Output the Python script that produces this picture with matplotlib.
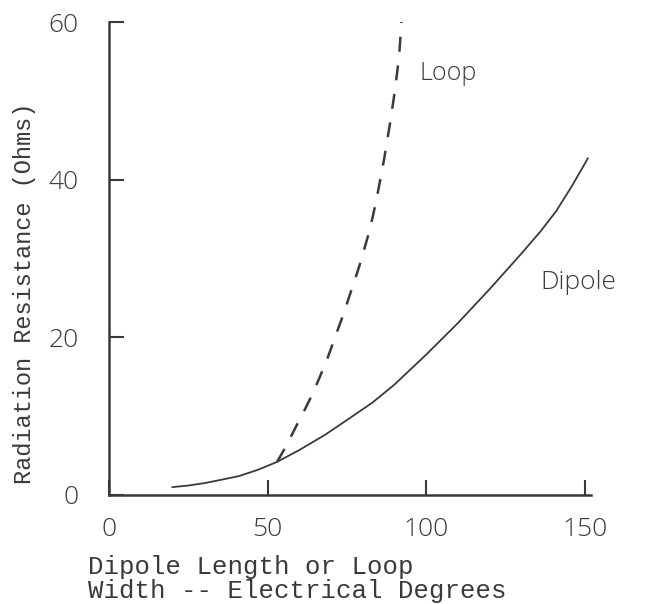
import matplotlib
matplotlib.use("Agg")
import matplotlib.pyplot as plt

# values
dipole_x = [20, 25, 30, 35, 41, 47, 53, 60, 68, 75, 83, 90, 100, 110, 120, 130, 136, 141, 146, 151]
dipole_y = [1.0, 1.2, 1.5, 1.9, 2.4, 3.2, 4.2, 5.7, 7.6, 9.5, 11.7, 14.0, 17.8, 21.8, 26.1, 30.6,
            33.4, 36.0, 39.2, 42.7]

loop_x = [53, 56, 59, 61.7, 64.4, 66.5, 68.6, 70.3, 72, 73.9, 75.7, 77.3, 78.9, 80.3,
          81.7, 83.0, 84.2, 85.5, 86.8, 88.6, 90.2, 91.5, 92.3]
loop_y = [4.2, 6.3, 8.7, 10.8, 13.0, 15.0, 17.0, 18.9, 20.8, 22.9, 25.1, 27.0, 29.0, 30.9,
          32.9, 35.0, 37.2, 39.9, 42.7, 47.1, 51.4, 55.7, 60.5]

xticks = [0, 50, 100, 150]
yticks = [0, 20, 40, 60]

ink = "#3a3a3a"
hand = "Open Sans"
mono = "Liberation Mono"

fig = plt.figure(figsize=(6.47, 6.04), dpi=100)
ax = fig.add_axes([109 / 647, 1 - 495 / 604, (591 - 109) / 647, (495 - 22) / 604])

ax.plot(dipole_x, dipole_y, color=ink, lw=1.3)
ax.plot(loop_x, loop_y, color=ink, lw=1.8, dashes=(6, 5.5))

ax.set_xlim(0, 152)
ax.set_ylim(0, 60)
ax.set_xticks(xticks)
ax.set_yticks(yticks)
ax.set_xticklabels([str(v) for v in xticks], family=hand, fontsize=19, weight="light", color=ink)
ax.set_yticklabels([str(v) for v in yticks], family=hand, fontsize=19, weight="light", color=ink)
ax.tick_params(axis="both", direction="in", length=11, width=1.5, color=ink)
ax.tick_params(axis="x", pad=16)
ax.tick_params(axis="y", pad=22)

for s in ["top", "right"]:
    ax.spines[s].set_visible(False)
for s in ["left", "bottom"]:
    ax.spines[s].set_linewidth(1.8)
    ax.spines[s].set_color(ink)

ax.text(98, 53.5, "Loop", family=hand, fontsize=18, weight="light", color=ink, va="center")
ax.text(136, 27, "Dipole", family=hand, fontsize=19, weight="light", color=ink, va="center")

fig.text(25 / 647, 1 - 293 / 604, "Radiation Resistance (Ohms)", family=mono,
         fontsize=17, color=ink, rotation=90, ha="center", va="center")
fig.text(88 / 647, 1 - 579 / 604, "Dipole Length or Loop\nWidth -- Electrical Degrees",
         family=mono, fontsize=18.5, color=ink, ha="left", va="center", linespacing=1.0)

fig.savefig("out.png", dpi=100, facecolor="white")
